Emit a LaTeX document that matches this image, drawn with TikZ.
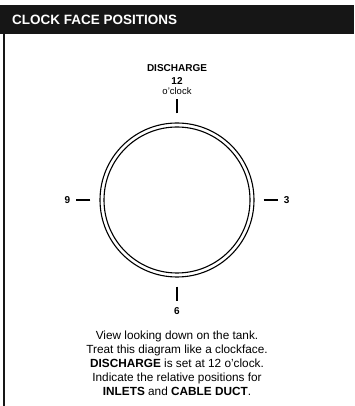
\documentclass[tikz,border=0pt]{standalone}
\usepackage{fontspec}
\setmainfont{Liberation Sans}
\usetikzlibrary{positioning}

\definecolor{barblack}{HTML}{161616}

\begin{document}
\begin{tikzpicture}[
  x=1pt, y=1pt,
  title/.style={font=\fontsize{13.5}{15}\selectfont\bfseries, text=white,
                anchor=west, inner sep=0pt},
  lbl/.style={font=\fontsize{10}{11}\selectfont\bfseries, inner sep=1pt},
  sublbl/.style={font=\fontsize{9.5}{10}\selectfont, inner sep=1pt},
  ring/.style={draw, circle, line width=1.1pt, inner sep=0pt},
  clockmark/.style={line width=1.1pt},
  note/.style={font=\fontsize{11.8}{14}\selectfont, align=center},
]
  \useasboundingbox (0,0) rectangle (354,406);

  %% Header bar and frame
  \fill[barblack] (0,372) rectangle (354,401);
  \draw[barblack, line width=2pt] (4,372) -- (4,0);
  \node[title] (head) at (12,386.5) {CLOCK FACE POSITIONS};

  %% Clock face
  \node[ring, minimum size=154pt] (face) at (177,206) {};
  \node[ring, minimum size=146pt] (inner) at (face.center) {};

  %% Marks at 12, 3, 6, 9
  \coordinate[above=9pt of face.north] (m12a);
  \coordinate[above=14pt of m12a] (m12b);
  \coordinate[below=9pt of face.south] (m6a);
  \coordinate[below=14pt of m6a] (m6b);
  \coordinate[left=9pt of face.west] (m9a);
  \coordinate[left=14pt of m9a] (m9b);
  \coordinate[right=9pt of face.east] (m3a);
  \coordinate[right=14pt of m3a] (m3b);

  \draw[clockmark] (m12a) -- (m12b);
  \draw[clockmark] (m6a)  -- (m6b);
  \draw[clockmark] (m9a)  -- (m9b);
  \draw[clockmark] (m3a)  -- (m3b);

  %% Hour labels
  \node[sublbl, above=4pt of m12b] (oclock) {o’clock};
  \node[lbl, above=0pt of oclock] (twelve) {12};
  \node[lbl, above=4pt of twelve] (dis) {DISCHARGE};
  \node[lbl, below=6pt of m6b] (six) {6};
  \node[lbl, left=5pt of m9b] (nine) {9};
  \node[lbl, right=5pt of m3b] (three) {3};

  %% Instructions
  \node[note] (view) at (177,43)
    {View looking down on the tank.\\
     Treat this diagram like a clockface.\\
     \textbf{DISCHARGE} is set at 12 o’clock.\\
     Indicate the relative positions for\\
     \textbf{INLETS} and \textbf{CABLE DUCT}.};
\end{tikzpicture}
\end{document}
